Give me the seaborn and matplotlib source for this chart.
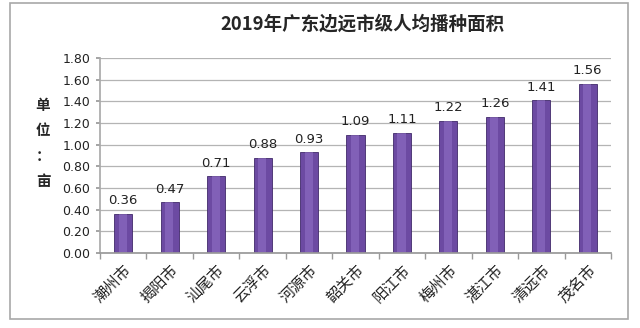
import matplotlib
matplotlib.use("Agg")
import matplotlib.pyplot as plt
import seaborn as sns
import pandas as pd
from matplotlib.patches import Rectangle

cities = ["潮州市", "揭阳市", "汕尾市", "云浮市", "河源市", "韶关市",
          "阳江市", "梅州市", "湛江市", "清远市", "茂名市"]
values = [0.36, 0.47, 0.71, 0.88, 0.93, 1.09, 1.11, 1.22, 1.26, 1.41, 1.56]
yticks = [0.00, 0.20, 0.40, 0.60, 0.80, 1.00, 1.20, 1.40, 1.60, 1.80]
title = "2019年广东边远市级人均播种面积"
ylabel = "单\n位\n：\n亩"

sns.set_theme(style="white")
plt.rcParams['font.family'] = ['Noto Sans CJK SC', 'DejaVu Sans']

df = pd.DataFrame({"city": cities, "value": values})

fig = plt.figure(figsize=(6.4, 3.28), dpi=100)
fig.patches.append(Rectangle((10/640, 1-319/328), 618/640, 316/328,
                             transform=fig.transFigure, fill=False,
                             edgecolor="#a8a8a8", linewidth=1.2))
ax = fig.add_axes([100/640, 1-253/328, 511/640, 195/328])

sns.barplot(data=df, x="city", y="value", ax=ax, color="#6C4AA2",
            width=0.39, edgecolor="#40296a", linewidth=0.6, saturation=1)

# subtle highlight stripe for a gradient-like look
for p in ax.patches:
    x, w, h = p.get_x(), p.get_width(), p.get_height()
    ax.add_patch(Rectangle((x + w*0.25, 0), w*0.45, h, facecolor="#9776cc",
                           edgecolor="none", alpha=0.5, zorder=p.get_zorder()+0.1))

for i, v in enumerate(values):
    ax.text(i, v + 0.06, f"{v:.2f}", ha="center", va="bottom",
            fontsize=9.5, color="#222222", family="DejaVu Sans")

ax.set_ylim(0, 1.8)
ax.set_xlim(-0.5, len(cities) - 0.5)
ax.set_yticks(yticks)
ax.set_yticklabels([f"{t:.2f}" for t in yticks], fontsize=9, family="DejaVu Sans",
                   color="#222222")
ax.yaxis.grid(True, color="#b4b4b4", linewidth=0.9)
ax.set_axisbelow(True)
ax.set_xticks(range(len(cities)))
ax.set_xticklabels(cities, rotation=45, ha="right", rotation_mode="anchor",
                   fontsize=11, color="#222222")
ax.tick_params(axis="x", length=0, pad=6)
ax.tick_params(axis="y", length=3, left=True, color="#999999", pad=4)
# category boundary ticks
ax.set_xticks([i - 0.5 for i in range(len(cities) + 1)], minor=True)
ax.tick_params(axis="x", which="minor", length=4, bottom=True, color="#999999")

for s in ["top", "right"]:
    ax.spines[s].set_visible(False)
ax.spines["left"].set_color("#aaaaaa")
ax.spines["bottom"].set_color("#999999")
ax.set_xlabel("")
ax.set_ylabel("")

fig.text(43/640, 1-143/328, ylabel, ha="center", va="center", fontsize=10.5,
         fontweight="bold", linespacing=1.7)
fig.text(362/640, 1-24/328, title, ha="center", va="center", fontsize=13.3,
         fontweight="bold")

fig.savefig("out.png", dpi=100)
